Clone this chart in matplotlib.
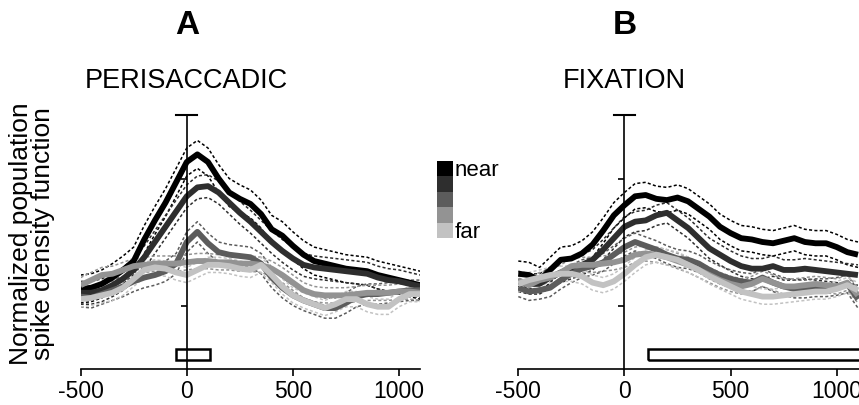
import numpy as np
import matplotlib
matplotlib.use("Agg")
import matplotlib.pyplot as plt
from matplotlib.patches import Rectangle

plt.rcParams['font.family'] = ['Liberation Sans', 'DejaVu Sans']
plt.rcParams['axes.unicode_minus'] = False

# time axis (ms), one sample every 50 ms
t = np.arange(-500, 1101, 50)

# panel A - perisaccadic, mean population SDF per distance group (near -> far)
peri_1 = [0.13, 0.14, 0.17, 0.22, 0.28, 0.35, 0.52, 0.67, 0.81, 0.97, 1.13, 1.19, 1.13,
          1.00, 0.89, 0.84, 0.80, 0.72, 0.60, 0.55, 0.47, 0.40, 0.35, 0.33, 0.31, 0.29,
          0.28, 0.27, 0.24, 0.22, 0.20, 0.18, 0.16]
peri_2 = [0.10, 0.10, 0.12, 0.16, 0.21, 0.28, 0.38, 0.50, 0.62, 0.74, 0.86, 0.93, 0.94,
          0.89, 0.81, 0.73, 0.66, 0.58, 0.50, 0.43, 0.37, 0.32, 0.30, 0.29, 0.28, 0.27,
          0.26, 0.25, 0.22, 0.20, 0.19, 0.17, 0.15]
peri_3 = [0.07, 0.06, 0.09, 0.12, 0.15, 0.19, 0.22, 0.24, 0.27, 0.33, 0.50, 0.58, 0.49,
          0.42, 0.40, 0.39, 0.38, 0.33, 0.22, 0.14, 0.08, 0.04, 0.01, -0.02, -0.02, 0.02,
          0.07, 0.09, 0.09, 0.10, 0.11, 0.12, 0.12]
peri_4 = [0.16, 0.20, 0.24, 0.25, 0.28, 0.31, 0.32, 0.33, 0.33, 0.33, 0.34, 0.35, 0.35,
          0.34, 0.34, 0.33, 0.33, 0.32, 0.29, 0.24, 0.18, 0.12, 0.09, 0.08, 0.08, 0.08,
          0.09, 0.10, 0.10, 0.10, 0.11, 0.11, 0.10]
peri_5 = [0.05, 0.06, 0.08, 0.10, 0.14, 0.21, 0.28, 0.30, 0.29, 0.26, 0.24, 0.28, 0.32,
          0.32, 0.31, 0.29, 0.28, 0.32, 0.24, 0.15, 0.08, 0.04, 0.01, -0.02, 0.01, 0.05,
          0.05, 0.01, -0.01, -0.01, 0.05, 0.09, 0.09]

# panel B - fixation
fix_1 = [0.25, 0.24, 0.20, 0.28, 0.36, 0.37, 0.41, 0.48, 0.59, 0.71, 0.79, 0.86, 0.87,
         0.84, 0.83, 0.85, 0.82, 0.76, 0.70, 0.62, 0.57, 0.53, 0.52, 0.50, 0.49, 0.51,
         0.53, 0.50, 0.49, 0.49, 0.46, 0.42, 0.40]
fix_2 = [0.19, 0.17, 0.17, 0.22, 0.26, 0.29, 0.32, 0.36, 0.44, 0.53, 0.62, 0.66, 0.67,
         0.71, 0.73, 0.67, 0.61, 0.53, 0.45, 0.40, 0.35, 0.31, 0.29, 0.29, 0.31, 0.28,
         0.28, 0.29, 0.28, 0.27, 0.26, 0.25, 0.24]
fix_3 = [0.14, 0.11, 0.12, 0.14, 0.20, 0.25, 0.29, 0.31, 0.34, 0.40, 0.46, 0.50, 0.47,
         0.44, 0.40, 0.37, 0.36, 0.33, 0.28, 0.24, 0.21, 0.19, 0.18, 0.22, 0.18, 0.15,
         0.13, 0.13, 0.14, 0.14, 0.15, 0.17, 0.05]
fix_4 = [0.20, 0.16, 0.20, 0.22, 0.26, 0.31, 0.32, 0.32, 0.33, 0.34, 0.36, 0.40, 0.41,
         0.40, 0.38, 0.35, 0.32, 0.28, 0.24, 0.20, 0.17, 0.15, 0.17, 0.21, 0.18, 0.15,
         0.15, 0.16, 0.17, 0.16, 0.15, 0.18, 0.08]
fix_5 = [0.17, 0.20, 0.22, 0.24, 0.25, 0.25, 0.23, 0.18, 0.16, 0.19, 0.25, 0.32, 0.38,
         0.40, 0.38, 0.36, 0.32, 0.28, 0.23, 0.19, 0.15, 0.11, 0.09, 0.07, 0.07, 0.08,
         0.09, 0.10, 0.11, 0.11, 0.13, 0.16, 0.12]

# approximate s.e.m. of each group (dashed lines)
peri_sem = [0.11, 0.09, 0.08, 0.06, 0.06]
fix_sem = [0.10, 0.08, 0.07, 0.06, 0.06]

greys = ['#000000', '#2e2e2e', '#5c5c5c', '#939393', '#c2c2c2']

# fixed windows shown as open boxes under the curves (ms)
peri_box = (-50, 110)
fix_box = (110, 1110)

W, H = 859, 406
fig = plt.figure(figsize=(W / 100, H / 100), dpi=100)


def panel(left_px, xmax, curves, sems, box, letter, title):
    ax = fig.add_axes([left_px / W, 36 / H, (xmax + 500) * 0.2123 / W, 254 / H])
    for y, s, c in zip(curves, sems, greys):
        y = np.array(y)
        ax.plot(t, y + s, color=c, lw=1.1, dashes=(2, 1.5))
        ax.plot(t, y - s, color=c, lw=1.1, dashes=(2, 1.5))
    for y, c in zip(curves, greys):
        ax.plot(t, y, color=c, lw=4.2, solid_capstyle='butt')
    ax.add_patch(Rectangle((box[0], -0.43), box[1] - box[0], 0.09, fill=False,
                           lw=1.8, ec='black', zorder=5, clip_on=False))
    ax.set_xlim(-500, xmax)
    ax.set_ylim(-0.5, 1.5)
    ax.spines['top'].set_visible(False)
    ax.spines['right'].set_visible(False)
    ax.spines['left'].set_position(('data', 0))
    ax.spines['left'].set_linewidth(1.2)
    ax.spines['bottom'].set_linewidth(1.2)
    ax.plot([-50, 50], [1.5, 1.5], color='black', lw=1.5, clip_on=False)
    ax.set_yticks([0, 1])
    ax.set_yticklabels([])
    ax.set_xticks([-500, 0, 500, 1000])
    ax.tick_params(axis='x', direction='out', length=5, width=1.2, labelsize=16.5, pad=2)
    ax.tick_params(axis='y', direction='out', length=4, width=1.2)
    ax.patch.set_visible(False)
    x0 = (left_px + 500 * 0.2123) / W
    fig.text(x0, 1 - 26 / H, letter, ha='center', va='center', fontsize=24, fontweight='bold')
    fig.text(x0, 1 - 81 / H, title, ha='center', va='center', fontsize=19.5)
    return ax


panel(80.6, 1100, [peri_1, peri_2, peri_3, peri_4, peri_5], peri_sem, peri_box,
      'A', 'PERISACCADIC')
panel(518.3, 1110, [fix_1, fix_2, fix_3, fix_4, fix_5], fix_sem, fix_box,
      'B', 'FIXATION')

fig.text(32 / W, 1 - 234 / H, 'Normalized population\nspike density function',
         rotation=90, ha='center', va='center', fontsize=19, linespacing=0.93)

# grey-scale key
key = fig.add_axes([437 / W, 1 - 239 / H, 16 / W, 77 / H])
for i, c in enumerate(greys):
    key.add_patch(Rectangle((0, 4 - i), 1, 1, color=c, lw=0))
key.set_xlim(0, 1)
key.set_ylim(0, 5)
key.axis('off')
fig.text(455 / W, 1 - 171 / H, 'near', ha='left', va='center', fontsize=16)
fig.text(455 / W, 1 - 233 / H, 'far', ha='left', va='center', fontsize=16)

fig.savefig('out.png', dpi=100)
